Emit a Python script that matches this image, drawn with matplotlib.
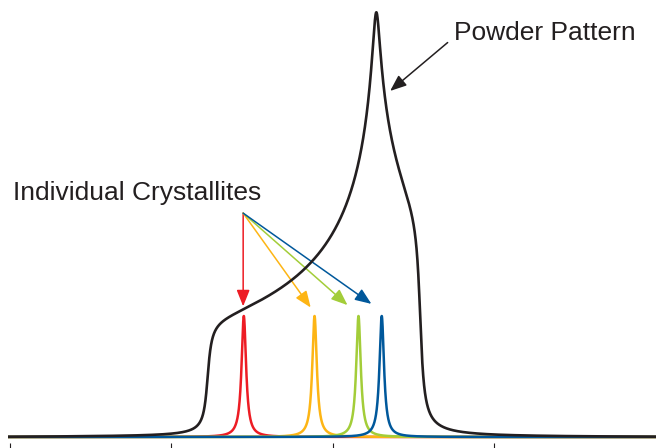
import numpy as np
import matplotlib
matplotlib.use("Agg")
import matplotlib.pyplot as plt

plt.rcParams["font.family"] = ["Liberation Sans", "DejaVu Sans"]

# --- data (x in spectrum units, y relative to crystallite peak height) -----
tensor = [61.2, 113.4, 127.0]          # delta33, delta22, delta11
powder_max = 3.51
powder_fwhm = 1.9

cryst_pos = [72.4, 94.3, 107.9, 115.1]
cryst_height = [1.0, 1.0, 1.0, 1.0]
cryst_fwhm = 1.7
cryst_colors = ["#ED1C24", "#FDB515", "#A3CD39", "#00589B"]

arrow_start = (72.2, 1.85)
arrow_tips_x = [72.2, 93.1, 104.5, 111.9]
arrow_tips_y = [1.08, 1.07, 1.09, 1.10]

powder_arrow_start = (135.5, 3.26)
powder_arrow_tip = (117.7, 2.86)

tick_pos = [0, 50, 100, 150]
BLACK = "#231F20"


def ellipk(m):
    a, b = np.ones_like(m), np.sqrt(1.0 - m)
    for _ in range(40):
        a, b = (a + b) / 2.0, np.sqrt(a * b)
    return np.pi / (2.0 * a)


def powder(x, w33, w22, w11):
    out = np.zeros_like(x)
    lo = (x > w33) & (x < w22)
    hi = (x > w22) & (x < w11)
    m = (x[lo] - w33) * (w11 - w22) / ((w11 - x[lo]) * (w22 - w33))
    out[lo] = ellipk(m) / np.sqrt((w11 - x[lo]) * (w22 - w33)) / np.pi
    m = (w11 - x[hi]) * (w22 - w33) / ((x[hi] - w33) * (w11 - w22))
    out[hi] = ellipk(m) / np.sqrt((x[hi] - w33) * (w11 - w22)) / np.pi
    return out


step = 0.025
x = np.arange(-0.6, 200.0, step) + 0.0123
hw = powder_fwhm / 2
k = np.arange(-100, 100 + step / 2, step)
kernel = 1.0 / (1.0 + (k / hw) ** 2)
black = np.convolve(powder(x, *tensor), kernel, mode="same")
black = black / black.max() * powder_max

fig = plt.figure(figsize=(6.56, 4.48), dpi=100)
ax = fig.add_axes([8 / 656, 5 / 448, 648 / 656, 443 / 448])
ax.set_xlim(-0.6, 200)
ax.set_ylim(-6 / 121, 437 / 121)

for pos, h, c, z in zip(cryst_pos, cryst_height, cryst_colors, range(4)):
    y = h / (1.0 + ((x - pos) / (cryst_fwhm / 2)) ** 2)
    ax.plot(x, y, color=c, lw=1.8, zorder=1 + z * 0.1, solid_capstyle="butt")

for tx, ty, c in zip(arrow_tips_x, arrow_tips_y, cryst_colors):
    ax.annotate("", xy=(tx, ty), xytext=arrow_start, zorder=2,
                arrowprops=dict(arrowstyle="-|>,head_length=0.55,head_width=0.22",
                                mutation_scale=18, color=c, lw=1.1,
                                shrinkA=0, shrinkB=0))

ax.plot(x, black, color=BLACK, lw=1.9, zorder=3)

ax.annotate("", xy=powder_arrow_tip, xytext=powder_arrow_start, zorder=4,
            arrowprops=dict(arrowstyle="-|>,head_length=0.55,head_width=0.22",
                            mutation_scale=18, color=BLACK, lw=1.1,
                            shrinkA=0, shrinkB=0))

ax.text(137.6, 3.28, "Powder Pattern", fontsize=19, color=BLACK,
        ha="left", va="baseline")
ax.text(0.84, 1.96, "Individual Crystallites", fontsize=19, color=BLACK,
        ha="left", va="baseline")

for s in ax.spines.values():
    s.set_visible(False)
ax.set_yticks([])
ax.set_xticks(tick_pos)
ax.set_xticklabels([])
ax.tick_params(axis="x", direction="out", length=3.5, width=0.8, color=BLACK)

fig.savefig("out.png", dpi=100)
